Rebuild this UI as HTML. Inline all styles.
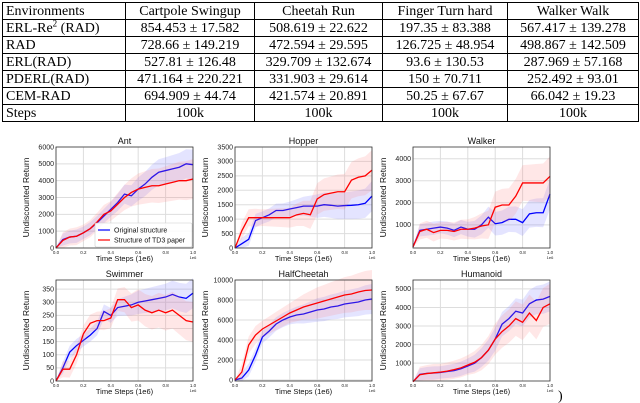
<!DOCTYPE html>
<html><head><meta charset="utf-8"><style>
body{margin:0;width:640px;height:403px;background:#fff;position:relative;overflow:hidden;font-family:"Liberation Sans",sans-serif}
table{position:absolute;left:2px;top:2px;border-collapse:collapse;font-family:"Liberation Serif",serif;font-size:14px;table-layout:fixed}
td{border:1px solid #000;height:16px;padding:0 3px;line-height:15px;text-align:center;white-space:nowrap}
td:first-child{text-align:left}
svg{position:absolute;left:0;top:0}
</style></head><body>
<table>
<colgroup><col style="width:123px"><col style="width:129px"><col style="width:128px"><col style="width:125px"><col style="width:131px"></colgroup>
<tr><td>Environments</td><td>Cartpole Swingup</td><td>Cheetah Run</td><td>Finger Turn hard</td><td>Walker Walk</td></tr>
<tr><td>ERL-Re<sup style="font-size:9px;line-height:0">2</sup> (RAD)</td><td>854.453 ± 17.582</td><td>508.619 ± 22.622</td><td>197.35 ± 83.388</td><td>567.417 ± 139.278</td></tr>
<tr><td>RAD</td><td>728.66 ± 149.219</td><td>472.594 ± 29.595</td><td>126.725 ± 48.954</td><td>498.867 ± 142.509</td></tr>
<tr><td>ERL(RAD)</td><td>527.81 ± 126.48</td><td>329.709 ± 132.674</td><td>93.6 ± 130.53</td><td>287.969 ± 57.168</td></tr>
<tr><td>PDERL(RAD)</td><td>471.164 ± 220.221</td><td>331.903 ± 29.614</td><td>150 ± 70.711</td><td>252.492 ± 93.01</td></tr>
<tr><td>CEM-RAD</td><td>694.909 ± 44.74</td><td>421.574 ± 20.891</td><td>50.25 ± 67.67</td><td>66.042 ± 19.23</td></tr>
<tr><td>Steps</td><td>100k</td><td>100k</td><td>100k</td><td>100k</td></tr>
</table>
<svg id="chart" width="640" height="403">
<text x="558" y="400" font-family="Liberation Serif" font-size="14">)</text>
</svg>
<script>
const xsteps=[0,0.05,0.1,0.15,0.2,0.25,0.3,0.35,0.4,0.45,0.5,0.55,0.6,0.65,0.7,0.75,0.8,0.85,0.9,0.95,1.0];
const titles=["Ant","Hopper","Walker","Swimmer","HalfCheetah","Humanoid"];
const antBlue=[0,500,650,700,900,1150,1500,1900,2300,2700,3200,3100,3500,3800,4200,4500,4600,4700,4800,5000,4950];
const antRed=[0,450,650,700,900,1150,1550,2000,2200,2600,3000,3300,3500,3600,3700,3700,3800,3900,4000,4000,4100];
const hopBlue=[0,150,300,950,1050,1150,1300,1300,1350,1400,1450,1450,1450,1500,1480,1450,1470,1480,1500,1550,1800];
const hopRed=[0,600,1050,1050,1050,1050,1050,1050,1050,1150,1200,1150,1700,1850,1900,1950,1950,2350,2450,2500,2700];
const walBlue=[0,750,800,850,900,850,750,900,800,800,1000,1350,1050,1100,1250,1250,1100,1500,1550,1550,2400];
const walRed=[0,700,800,650,750,750,700,800,800,850,950,1000,1800,1900,1900,2300,2900,2900,2900,2900,3200];
const swiBlue=[0,50,110,135,155,175,200,265,250,280,285,290,300,305,310,315,320,330,320,315,335];
const swiRed=[0,45,45,100,180,220,230,230,240,310,310,280,290,270,260,270,260,270,250,230,225];
const hcBlue=[0,200,1000,2500,4300,4900,5600,6000,6300,6500,6600,6800,7000,7100,7300,7400,7600,7700,7800,8000,8100];
const hcRed=[0,800,3500,4500,5100,5500,5900,6300,6700,7000,7300,7500,7700,7900,8100,8300,8500,8600,8800,8950,9000];
const humBlue=[0,400,450,470,500,550,600,700,850,1000,1300,1700,2300,3100,3400,3800,3700,4200,4400,4450,4600];
const humRed=[0,380,440,480,520,570,650,750,900,1050,1300,1700,2300,2700,3000,3400,3200,3700,3300,4000,4200];
const bandFrac=[0,0.25,0.25,0.25,0.22,0.22,0.22,0.22,0.22,0.24,0.26,0.28,0.3,0.3,0.3,0.3,0.3,0.3,0.3,0.3,0.3];
const yTicks=[[0,1000,2000,3000,4000,5000,6000],[0,500,1000,1500,2000,2500,3000,3500],[1000,2000,3000,4000],[0,50,100,150,200,250,300,350],[0,2000,4000,6000,8000,10000],[1000,2000,3000,4000,5000]];
const yRanges=[[0,6000],[0,3500],[-50,4530],[0,385],[-100,10000],[40,5480]];
const xTicks=[0,0.2,0.4,0.6,0.8,1.0];
const series=[[antBlue,antRed],[hopBlue,hopRed],[walBlue,walRed],[swiBlue,swiRed],[hcBlue,hcRed],[humBlue,humRed]];
const svg=document.getElementById('chart');const NS="http://www.w3.org/2000/svg";
function mk(t,a,p){const e=document.createElementNS(NS,t);for(const k in a)e.setAttribute(k,a[k]);(p||svg).appendChild(e);return e;}
const lefts=[56,235,413],tops=[147,280],W=137,H=101;
for(let i=0;i<6;i++){
 const L=lefts[i%3],T=tops[Math.floor(i/3)],[y0,y1]=yRanges[i];
 const g=mk('g',{});
 
 
 const sx=v=>L+v*W, sy=v=>T+H-(v-y0)/(y1-y0)*H;
 mk('rect',{x:L,y:T,width:W,height:H,fill:'#fff'},g);
 xTicks.forEach(t=>{mk('line',{x1:sx(t),x2:sx(t),y1:T,y2:T+H,stroke:'#ddd','stroke-width':1},g);
  const tx=mk('text',{x:sx(t),y:T+H+6,'font-size':4.5,'text-anchor':'middle',fill:'#222'},g);tx.textContent=t.toFixed(1);});
 yTicks[i].forEach(t=>{mk('line',{x1:L,x2:L+W,y1:sy(t),y2:sy(t),stroke:'#ddd','stroke-width':1},g);
  const tx=mk('text',{x:L-2,y:sy(t)+2.3,'font-size':7,'text-anchor':'end',fill:'#222'},g);tx.textContent=t;});
 const e6=mk('text',{x:L+W,y:T+H+11,'font-size':4,'text-anchor':'middle',fill:'#222'},g);e6.textContent='1e6';
 const cols=[['#0000ff','rgba(120,120,255,0.2)'],['#ff0000','rgba(255,120,120,0.18)']];
 series[i].forEach((d,j)=>{
  const span=(y1-y0)*(j?0.12:0.09);
  let up=xsteps.map((x,k)=>sx(x)+','+sy(d[k]+bandFrac[k]*span/0.2*(0.5+0.6*x)));
  let lo=xsteps.map((x,k)=>sx(x)+','+sy(Math.max(y0,d[k]-bandFrac[k]*span/0.2*(0.5+0.6*x)))).reverse();
  const b=mk('polygon',{points:up.concat(lo).join(' '),fill:cols[j][1]},g);
  
  
  const l=mk('polyline',{points:xsteps.map((x,k)=>sx(x)+','+sy(d[k])).join(' '),fill:'none',stroke:cols[j][0],'stroke-width':1.3},g);
  
  
 });
 mk('rect',{x:L,y:T,width:W,height:H,fill:'none',stroke:'#333','stroke-width':0.8},g);
 const tt=mk('text',{x:L+W/2,y:T-3,'font-size':9,'text-anchor':'middle',fill:'#111'},g);tt.textContent=titles[i];
 const xl=mk('text',{x:L+W/2,y:T+H+13,'font-size':7.5,'text-anchor':'middle',fill:'#111'},g);xl.textContent='Time Steps (1e6)';
 const yl=mk('text',{x:0,y:0,'font-size':8.5,'text-anchor':'middle',fill:'#111',transform:`translate(${L-27},${T+H/2}) rotate(-90)`},g);yl.textContent='Undiscounted Return';
}
const lg=mk('g',{});


mk('rect',{x:95,y:223,width:97,height:24,fill:'rgba(255,255,255,0.85)',stroke:'#ccc','stroke-width':0.6,rx:1.5},lg);
[['Original structure','#0000ff'],['Structure of TD3 paper','#ff0000']].forEach((e,k)=>{
 const y=230+k*10;
 mk('line',{x1:98,x2:110,y1:y,y2:y,stroke:e[1],'stroke-width':1.2},lg);
 const t=mk('text',{x:114,y:y+2.5,'font-size':7,fill:'#111'},lg);t.textContent=e[0];
});
</script>
</body></html>
